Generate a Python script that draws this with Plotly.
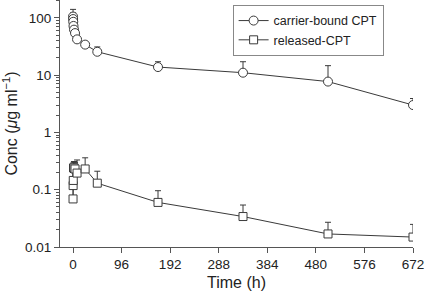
import plotly.graph_objects as go

# Data
time_h = [0.083, 0.25, 0.5, 1, 2, 4, 8, 24, 48, 168, 336, 504, 672]

carrier_bound = [105, 95, 85, 72, 62, 54, 42, 34, 25.5, 13.8, 11.0, 7.7, 3.0]
carrier_bound_upper = [140, 122, 105, 88, 75, 64, 52, 38, 31, 17.1, 17.1, 14.6, 3.9]

released = [0.069, 0.118, 0.145, 0.24, 0.24, 0.23, 0.195, 0.23, 0.13, 0.060, 0.034, 0.0169, 0.0149]
released_upper = [0.20, 0.22, 0.25, 0.30, 0.31, 0.30, 0.33, 0.36, 0.21, 0.096, 0.054, 0.027, 0.0248]

x_ticks = [0, 96, 192, 288, 384, 480, 576, 672]
y_ticks = [0.01, 0.1, 1, 10, 100]
y_tick_labels = ["0.01", "0.1", "1", "10", "100"]

FONT = "Liberation Sans, Arial, Helvetica, sans-serif"
LINE = "#3a3a3a"

cb_err = [u - v for u, v in zip(carrier_bound_upper, carrier_bound)]
rel_err = [u - v for u, v in zip(released_upper, released)]

minor_vals = [m * 10 ** d for d in range(-2, 3) for m in range(2, 10)]

fig = go.Figure()
fig.add_trace(go.Scatter(
    x=time_h, y=carrier_bound, name="carrier-bound CPT",
    mode="lines+markers",
    line=dict(color=LINE, width=1),
    marker=dict(symbol="circle", size=9, color="white", line=dict(color=LINE, width=1)),
    error_y=dict(type="data", array=cb_err, arrayminus=[0] * len(cb_err),
                 color=LINE, thickness=1, width=3),
))
fig.add_trace(go.Scatter(
    x=time_h, y=released, name="released-CPT",
    mode="lines+markers",
    line=dict(color=LINE, width=1),
    marker=dict(symbol="square", size=8, color="white", line=dict(color=LINE, width=1)),
    error_y=dict(type="data", array=rel_err, arrayminus=[0] * len(rel_err),
                 color=LINE, thickness=1, width=3),
))

fig.update_layout(
    width=426, height=291,
    margin=dict(l=60, r=13, t=0, b=44),
    paper_bgcolor="white", plot_bgcolor="white",
    font=dict(family=FONT, size=13.5, color="#222"),
    showlegend=True,
    hovermode=False,
    legend=dict(
        x=0.489, y=0.98, xanchor="left", yanchor="top",
        bordercolor="#888", borderwidth=1, bgcolor="white",
        font=dict(size=12.5), itemwidth=30, tracegroupgap=0,
    ),
    xaxis=dict(
        range=[-25.7, 672], tickvals=x_ticks, automargin=False,
        showline=True, linecolor="#555", linewidth=1,
        ticks="outside", ticklen=5, tickcolor="#555",
        showgrid=False, zeroline=False,
        title=dict(text="Time (h)", standoff=6),
    ),
    yaxis=dict(
        type="log", range=[-2, 2.31], automargin=False,
        tickvals=y_ticks, ticktext=y_tick_labels,
        showline=True, linecolor="#555", linewidth=1,
        ticks="outside", ticklen=5, tickcolor="#555",
        minor=dict(tickvals=minor_vals, ticks="outside", ticklen=3, tickcolor="#555", showgrid=False),
        showgrid=False, zeroline=False,
        title=dict(text="Conc (<i>μ</i>g ml<sup>−1</sup>)", standoff=8),
    ),
)

fig.write_html("out.html", config={"displayModeBar": False, "staticPlot": True})

# remove the default page margin so the figure sits at the window's top-left corner
with open("out.html", encoding="utf-8") as f:
    html = f.read()
html = html.replace("<head>", "<head><style>html,body{margin:0;padding:0;overflow:hidden;}</style>", 1)
with open("out.html", "w", encoding="utf-8") as f:
    f.write(html)
